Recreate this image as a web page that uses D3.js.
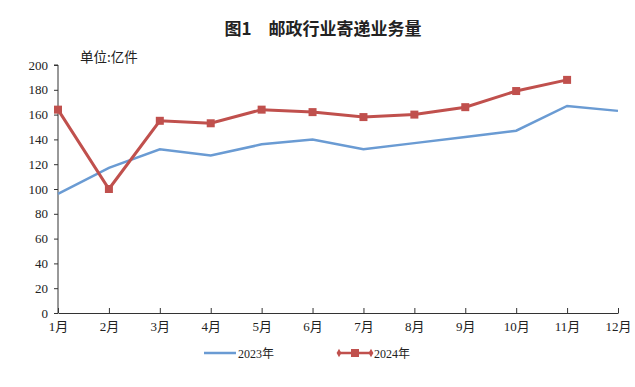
<!DOCTYPE html>
<html>
<head>
<meta charset="utf-8">
<script src="https://cdn.jsdelivr.net/npm/d3@7"></script>
<style>
  body { margin: 0; background: #fff; }
  text { font-family: "Liberation Serif", "Noto Sans CJK SC", serif; }
</style>
</head>
<body>
<div id="container"></div>
<script>
const months = ['1月', '2月', '3月', '4月', '5月', '6月', '7月', '8月', '9月', '10月', '11月', '12月']
const values2023 = [96, 117, 132, 127, 136, 140, 132, 137, 142, 147, 167, 163]
const values2024 = [164, 100, 155, 153, 164, 162, 158, 160, 166, 179, 188]
const yTicks = [0, 20, 40, 60, 80, 100, 120, 140, 160, 180, 200]

const width = 635
const height = 387
const margin = { top: 65, right: 17, bottom: 74, left: 58 }

const svg = d3.select('#container')
  .append('svg')
  .attr('width', width)
  .attr('height', height)

const x = d3.scalePoint()
  .domain(months)
  .range([margin.left, width - margin.right])

const y = d3.scaleLinear()
  .domain([0, 200])
  .range([height - margin.bottom, margin.top])

// title
svg.append('text')
  .attr('x', 323)
  .attr('y', 35)
  .attr('text-anchor', 'middle')
  .style('font-family', '"Noto Sans CJK SC", sans-serif')
  .style('font-size', '17px')
  .style('font-weight', 'bold')
  .style('fill', '#222')
  .text('图1\u3000邮政行业寄递业务量')

svg.append('text')
  .attr('x', 80)
  .attr('y', 62)
  .style('font-family', '"Noto Sans CJK SC", sans-serif')
  .style('font-size', '13.5px')
  .style('fill', '#222')
  .text('单位:亿件')

// y axis
const yAxis = svg.append('g')
  .attr('transform', `translate(${margin.left},0)`)
  .call(d3.axisLeft(y).tickValues(yTicks).tickSize(4).tickPadding(6))
yAxis.select('.domain').attr('stroke', '#333').attr('d', `M-4,${y(200)}H0V${y(0)}`)
yAxis.selectAll('.tick line').attr('stroke', '#333')
yAxis.selectAll('text').style('font-size', '13px').style('fill', '#222')

// x axis
const xAxis = svg.append('g')
  .attr('transform', `translate(0,${y(0)})`)
  .call(d3.axisBottom(x).tickSizeInner(-5).tickSizeOuter(0).tickPadding(9))
xAxis.select('.domain').attr('stroke', '#333')
xAxis.selectAll('.tick line').attr('stroke', '#333')
xAxis.selectAll('text').style('font-size', '13px').style('fill', '#222')

const line = d3.line()
  .x((d, i) => x(months[i]))
  .y(d => y(d))

svg.append('path')
  .datum(values2023)
  .attr('d', line)
  .attr('fill', 'none')
  .attr('stroke', '#6a9bd3')
  .attr('stroke-width', 2.5)

svg.append('path')
  .datum(values2024)
  .attr('d', line)
  .attr('fill', 'none')
  .attr('stroke', '#c0504d')
  .attr('stroke-width', 3)

svg.append('g')
  .selectAll('rect')
  .data(values2024)
  .enter().append('rect')
  .attr('x', (d, i) => x(months[i]) - 4)
  .attr('y', d => y(d) - 4)
  .attr('width', 8)
  .attr('height', 8)
  .attr('fill', '#c0504d')

// legend
const legend = svg.append('g').attr('transform', 'translate(0,353)')
legend.append('line')
  .attr('x1', 204).attr('x2', 236)
  .attr('stroke', '#6a9bd3').attr('stroke-width', 2.5)
legend.append('text')
  .attr('x', 238).attr('y', 5)
  .style('font-size', '12px').style('fill', '#222')
  .text('2023年')

legend.append('line')
  .attr('x1', 338).attr('x2', 372)
  .attr('stroke', '#c0504d').attr('stroke-width', 2.5)
legend.append('rect')
  .attr('x', 351).attr('y', -4).attr('width', 8).attr('height', 8)
  .attr('fill', '#c0504d')
legend.selectAll('path.dia')
  .data([339, 371])
  .enter().append('path')
  .attr('class', 'dia')
  .attr('d', d3.symbol(d3.symbolDiamond, 20))
  .attr('transform', d => `translate(${d},0)`)
  .attr('fill', '#c0504d')
legend.append('text')
  .attr('x', 374).attr('y', 5)
  .style('font-size', '12px').style('fill', '#222')
  .text('2024年')
</script>
</body>
</html>
